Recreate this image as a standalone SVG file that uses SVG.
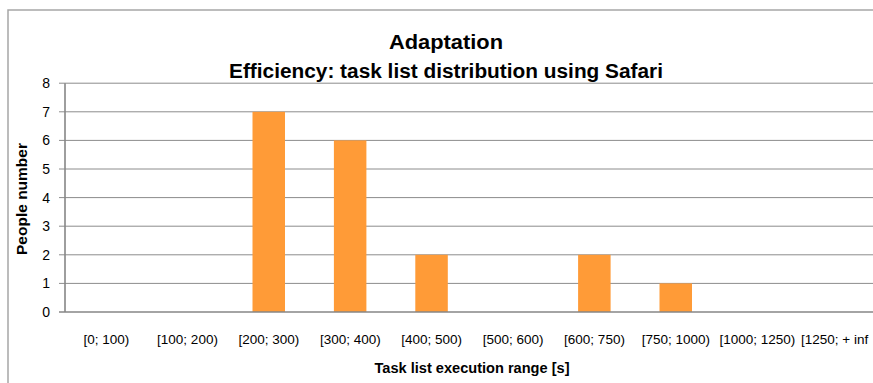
<svg xmlns="http://www.w3.org/2000/svg" width="873" height="383" viewBox="0 0 873 383">
  <style>
    .frame { fill: #ffffff; stroke: #a6a6a6; stroke-width: 1.5; }
    .grid { stroke: #8c8c8c; stroke-width: 1; fill: none; }
    .axis { stroke: #868686; stroke-width: 1.6; fill: none; }
    .bar { fill: #ff9b37; }
    .title { font-family: "Liberation Sans", Arial, sans-serif; font-weight: bold; font-size: 20px; fill: #000; text-anchor: middle; }
    .axtitle { font-family: "Liberation Sans", Arial, sans-serif; font-weight: bold; font-size: 14px; fill: #000; text-anchor: middle; }
    .ylab { font-family: "Liberation Sans", Arial, sans-serif; font-size: 14px; fill: #000; text-anchor: end; }
    .xlab { font-family: "Liberation Sans", Arial, sans-serif; font-size: 13.5px; fill: #000; text-anchor: middle; }
  </style>

  <!-- chart area -->
  <rect x="0" y="0" width="873" height="383" fill="#ffffff"/>
  <rect class="frame" x="8" y="10" width="880" height="390"/>

  <!-- titles -->
  <g id="chart-title">
    <text class="title" x="446" y="49" textLength="114" lengthAdjust="spacingAndGlyphs">Adaptation</text>
    <text class="title" x="446" y="78" textLength="434" lengthAdjust="spacingAndGlyphs">Efficiency: task list distribution using Safari</text>
  </g>

  <!-- horizontal gridlines (value 1..8) -->
  <g id="gridlines">
    <line class="grid" x1="59" y1="83.2" x2="873" y2="83.2"/>
    <line class="grid" x1="59" y1="111.8" x2="873" y2="111.8"/>
    <line class="grid" x1="59" y1="140.4" x2="873" y2="140.4"/>
    <line class="grid" x1="59" y1="169" x2="873" y2="169"/>
    <line class="grid" x1="59" y1="197.6" x2="873" y2="197.6"/>
    <line class="grid" x1="59" y1="226.2" x2="873" y2="226.2"/>
    <line class="grid" x1="59" y1="254.8" x2="873" y2="254.8"/>
    <line class="grid" x1="59" y1="283.4" x2="873" y2="283.4"/>
  </g>

  <!-- bars -->
  <g id="bars">
    <rect id="bar-200-300" class="bar" x="252.5" y="111.8" width="32.5" height="200.2"/>
    <rect id="bar-300-400" class="bar" x="333.9" y="140.4" width="32.5" height="171.6"/>
    <rect id="bar-400-500" class="bar" x="415.3" y="254.8" width="32.5" height="57.2"/>
    <rect id="bar-600-750" class="bar" x="578.1" y="254.8" width="32.5" height="57.2"/>
    <rect id="bar-750-1000" class="bar" x="659.5" y="283.4" width="32.5" height="28.6"/>
  </g>

  <!-- axes -->
  <g id="axes">
    <line class="axis" x1="65" y1="83.2" x2="65" y2="312"/>
    <line class="axis" x1="59" y1="312" x2="873" y2="312"/>
  </g>

  <!-- value axis labels -->
  <g id="y-labels">
    <text class="ylab" x="50" y="88.2">8</text>
    <text class="ylab" x="50" y="116.8">7</text>
    <text class="ylab" x="50" y="145.4">6</text>
    <text class="ylab" x="50" y="174">5</text>
    <text class="ylab" x="50" y="202.6">4</text>
    <text class="ylab" x="50" y="231.2">3</text>
    <text class="ylab" x="50" y="259.8">2</text>
    <text class="ylab" x="50" y="288.4">1</text>
    <text class="ylab" x="50" y="317">0</text>
  </g>

  <!-- category labels -->
  <g id="x-labels">
    <text class="xlab" x="106.3" y="344">[0; 100)</text>
    <text class="xlab" x="187.5" y="344">[100; 200)</text>
    <text class="xlab" x="268.9" y="344">[200; 300)</text>
    <text class="xlab" x="350.3" y="344">[300; 400)</text>
    <text class="xlab" x="431.7" y="344">[400; 500)</text>
    <text class="xlab" x="513.1" y="344">[500; 600)</text>
    <text class="xlab" x="594.5" y="344">[600; 750)</text>
    <text class="xlab" x="675.9" y="344">[750; 1000)</text>
    <text class="xlab" x="757.3" y="344">[1000; 1250)</text>
    <text class="xlab" x="801" y="344" style="text-anchor:start">[1250; + inf</text>
  </g>

  <!-- axis titles -->
  <g id="axis-titles">
    <text class="axtitle" x="472" y="373" textLength="195" lengthAdjust="spacingAndGlyphs">Task list execution range [s]</text>
    <text class="axtitle" transform="translate(27,199) rotate(-90)" textLength="112" lengthAdjust="spacingAndGlyphs">People number</text>
  </g>
</svg>
